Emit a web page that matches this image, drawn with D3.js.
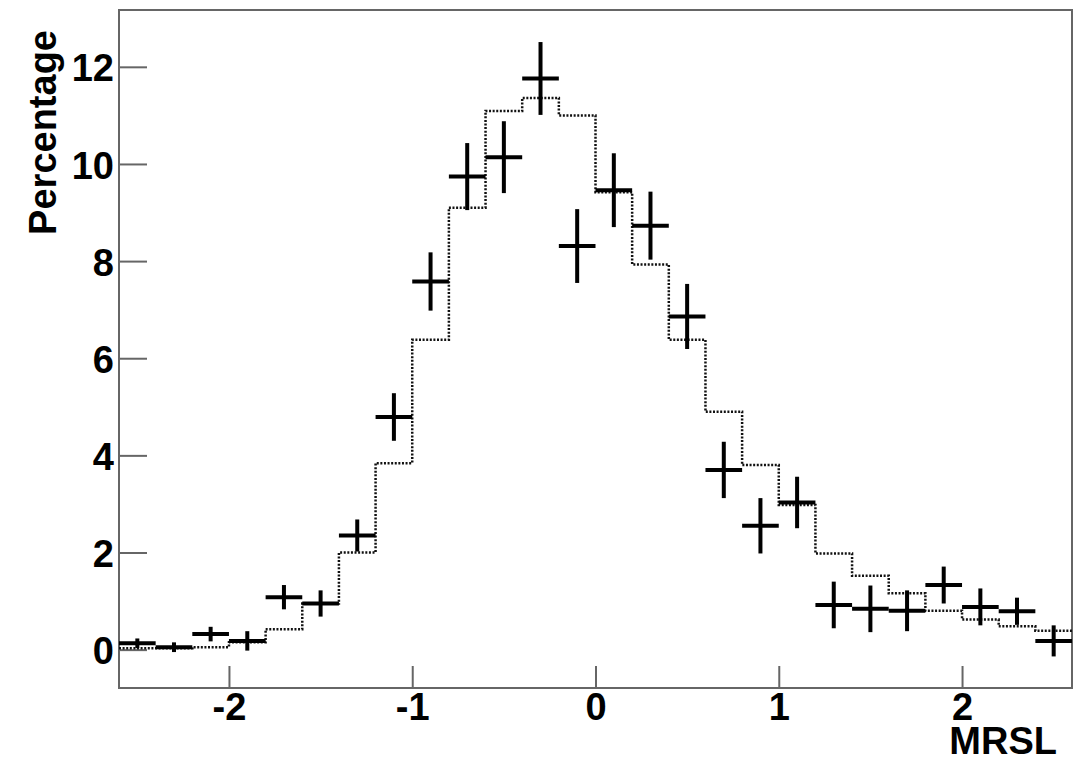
<!DOCTYPE html>
<html>
<head>
<meta charset="utf-8">
<script src="https://cdn.jsdelivr.net/npm/d3@7"></script>
<style>
  html, body { margin: 0; padding: 0; background: #fff; }
  svg { display: block; }
  text { font-family: "Liberation Sans", Arial, Helvetica, sans-serif; font-weight: bold; fill: #000; }
</style>
</head>
<body>
<svg id="chart" width="1085" height="762"></svg>
<script>
// Bin centres of the MRSL distribution (bin width 0.2)
const binCenters = [-2.5, -2.3, -2.1, -1.9, -1.7, -1.5, -1.3, -1.1, -0.9, -0.7, -0.5, -0.3, -0.1,
                     0.1, 0.3, 0.5, 0.7, 0.9, 1.1, 1.3, 1.5, 1.7, 1.9, 2.1, 2.3, 2.5];
const binWidth = 0.2;

// Measured distribution (percentage per bin) with its statistical error
const dataValues = [0.13, 0.05, 0.32, 0.18, 1.08, 0.95, 2.35, 4.79, 7.58, 9.74, 10.14, 11.76, 8.31,
                    9.46, 8.73, 6.86, 3.70, 2.55, 3.03, 0.92, 0.84, 0.80, 1.33, 0.88, 0.79, 0.18];
const dataErrors = [0.10, 0.10, 0.15, 0.20, 0.25, 0.27, 0.33, 0.49, 0.60, 0.69, 0.74, 0.75, 0.76,
                    0.76, 0.70, 0.67, 0.58, 0.57, 0.53, 0.48, 0.48, 0.42, 0.38, 0.38, 0.28, 0.32];

// Reference histogram (percentage per bin), drawn as a dotted step line
const refValues = [0.03, 0.03, 0.05, 0.15, 0.42, 0.95, 2.00, 3.84, 6.38, 9.10, 11.09, 11.36, 11.00,
                   9.42, 7.93, 6.38, 4.90, 3.80, 2.98, 1.98, 1.52, 1.16, 0.80, 0.62, 0.48, 0.39];

// Axis ticks
const xMajorTicks = [-2, -1, 0, 1, 2];
const yMajorTicks = [0, 2, 4, 6, 8, 10, 12];
const xLabel = "MRSL";
const yLabel = "Percentage";

const svg = d3.select("#chart");
const frame = { left: 119, right: 1072, top: 10, bottom: 688 };

const x = d3.scaleLinear().domain([-2.6, 2.6]).range([frame.left, frame.right]);
const y = d3.scaleLinear().domain([-0.79, 13.17]).range([frame.bottom, frame.top]);

const fontSize = 38;
const axisColor = "#666";

// Minor tick positions
const xMinorTicks = d3.range(-2.6, 2.6001, 0.2).map(v => +v.toFixed(1)).filter(v => !xMajorTicks.includes(v) && v > -2.6 && v < 2.6);
const yMinorTicks = d3.range(-0.5, 13.01, 0.5).filter(v => !yMajorTicks.includes(v));

// X axis: ticks point up into the frame
const xAxisG = svg.append("g").attr("transform", `translate(0,${frame.bottom})`);
xAxisG.call(d3.axisBottom(x).tickValues(xMinorTicks).tickSize(-12).tickFormat(""));
xAxisG.call(d3.axisBottom(x).tickValues(xMajorTicks).tickSize(-22).tickFormat(d3.format("d")));
xAxisG.selectAll(".domain").remove();
xAxisG.selectAll("line").attr("stroke", axisColor).attr("stroke-width", 2);
xAxisG.selectAll("text")
  .attr("y", 32).attr("dy", 0)
  .style("font-size", fontSize + "px")
  .text(d => d < 0 ? "-" + Math.abs(d) : d);

// Y axis: ticks point right into the frame
const yAxisG = svg.append("g").attr("transform", `translate(${frame.left},0)`);
yAxisG.call(d3.axisLeft(y).tickValues(yMinorTicks).tickSize(-14).tickFormat(""));
yAxisG.call(d3.axisLeft(y).tickValues(yMajorTicks).tickSize(-28).tickFormat(d3.format("d")));
yAxisG.selectAll(".domain").remove();
yAxisG.selectAll("line").attr("stroke", axisColor).attr("stroke-width", 2);
yAxisG.selectAll("text")
  .attr("x", -5).attr("dy", "0.37em")
  .style("font-size", fontSize + "px");

// Frame
svg.append("rect")
  .attr("x", frame.left).attr("y", frame.top)
  .attr("width", frame.right - frame.left).attr("height", frame.bottom - frame.top)
  .attr("fill", "none").attr("stroke", axisColor).attr("stroke-width", 2);

// Reference histogram as a step line
const stepPoints = binCenters.map((c, i) => [c - binWidth / 2, refValues[i]]);
stepPoints.push([binCenters[binCenters.length - 1] + binWidth / 2, refValues[refValues.length - 1]]);
const stepLine = d3.line().x(d => x(d[0])).y(d => y(d[1])).curve(d3.curveStepAfter);
svg.append("path")
  .attr("d", stepLine(stepPoints))
  .attr("fill", "none")
  .attr("stroke", "#111")
  .attr("stroke-width", 2.5)
  .attr("stroke-dasharray", "2,1.6");

// Data points with error bars (crosses)
const pts = svg.append("g").attr("stroke", "#000").attr("stroke-width", 4);
binCenters.forEach((c, i) => {
  pts.append("line")
    .attr("x1", x(c - binWidth / 2)).attr("x2", x(c + binWidth / 2))
    .attr("y1", y(dataValues[i])).attr("y2", y(dataValues[i]));
  pts.append("line")
    .attr("x1", x(c)).attr("x2", x(c))
    .attr("y1", y(dataValues[i] - dataErrors[i])).attr("y2", y(dataValues[i] + dataErrors[i]));
});

// Axis titles
svg.append("text")
  .attr("x", 1057).attr("y", 754)
  .attr("text-anchor", "end")
  .style("font-size", fontSize + "px")
  .text(xLabel);

svg.append("text")
  .attr("transform", "translate(56,30) rotate(-90)")
  .attr("text-anchor", "end")
  .style("font-size", fontSize + "px")
  .text(yLabel);
</script>
</body>
</html>
